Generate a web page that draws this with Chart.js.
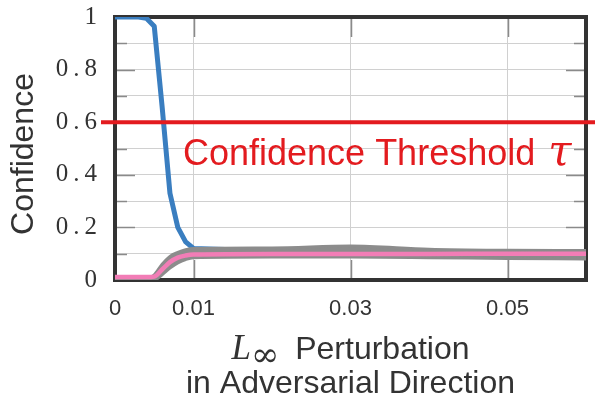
<!DOCTYPE html>
<html lang="en">
<head>
    <meta charset="UTF-8">
    <title>Confidence vs perturbation</title>
    <script src="https://cdn.jsdelivr.net/npm/chart.js"></script>
    <style>
        body {
            margin: 0;
            background: white;
        }

        #chart {
            display: block;
        }
    </style>
</head>
<body>
    <canvas id="chart" width="595" height="398"></canvas>

    <script>
        // L-inf perturbation steps (shared by every curve)
        const perturbation = [0, 0.001, 0.002, 0.003, 0.004, 0.005, 0.006, 0.007, 0.008, 0.009, 0.01, 0.02, 0.03, 0.04, 0.05, 0.06];

        // confidence of the original class (blue)
        const originalClass = [1, 1, 1, 1, 0.995, 0.965, 0.66, 0.33, 0.2, 0.145, 0.12, 0.11, 0.11, 0.105, 0.1, 0.1];
        // target class (pink)
        const targetClass = [0.011, 0.011, 0.011, 0.011, 0.011, 0.013, 0.04, 0.068, 0.085, 0.093, 0.097, 0.099, 0.099, 0.099, 0.1, 0.1];
        // spread of the remaining classes (grey band)
        const othersUpper = [0.005, 0.005, 0.005, 0.005, 0.005, 0.02, 0.06, 0.09, 0.105, 0.115, 0.12, 0.122, 0.129, 0.117, 0.113, 0.112];
        const othersLower = [0, 0, 0, 0, 0, 0, 0.02, 0.045, 0.065, 0.078, 0.085, 0.087, 0.087, 0.085, 0.082, 0.08];

        const threshold = 0.6;

        const xTickValues = [0, 0.01, 0.03, 0.05];
        const xTickLabels = ['0', '0.01', '0.03', '0.05'];
        const yTickLabels = ['0', '0.2', '0.4', '0.6', '0.8', '1'];

        const BLUE = '#3a7ec0';
        const PINK = '#f27db6';
        const GREY = '#8c8c8c';
        const RED = '#e31b1f';
        const INK = '#333333';

        const toPoints = values => perturbation.map((x, i) => ({ x, y: values[i] }));

        // frame, inner tick marks, threshold line and the hand-set titles
        const decorations = {
            id: 'decorations',
            beforeDatasetsDraw(chart) {
                const { ctx, chartArea: a, scales } = chart;
                ctx.save();
                ctx.strokeStyle = '#8a8a8a';
                ctx.lineWidth = 1.5;
                ctx.beginPath();
                for (let k = 1; k < 10; k++) {
                    const y = Math.round(scales.y.getPixelForValue(k / 10)) + 0.5;
                    const len = k % 2 === 0 ? 20 : 12;
                    ctx.moveTo(a.left, y); ctx.lineTo(a.left + len, y);
                    ctx.moveTo(a.right, y); ctx.lineTo(a.right - len, y);
                }
                xTickValues.slice(1).forEach(v => {
                    const x = Math.round(scales.x.getPixelForValue(v)) + 0.5;
                    ctx.moveTo(x, a.top); ctx.lineTo(x, a.top + 20);
                    ctx.moveTo(x, a.bottom); ctx.lineTo(x, a.bottom - 20);
                });
                ctx.stroke();

                ctx.strokeStyle = INK;
                ctx.lineWidth = 4;
                ctx.strokeRect(a.left, a.top, a.right - a.left, a.bottom - a.top);
                ctx.restore();
            },
            afterDatasetsDraw(chart) {
                const { ctx, chartArea: a, scales } = chart;
                const y = scales.y.getPixelForValue(threshold);
                ctx.save();
                ctx.strokeStyle = RED;
                ctx.lineWidth = 4;
                ctx.beginPath();
                ctx.moveTo(a.left - 14, y);
                ctx.lineTo(chart.width, y);
                ctx.stroke();

                // threshold label
                ctx.fillStyle = RED;
                ctx.textBaseline = 'alphabetic';
                ctx.font = '36px "Liberation Sans"';
                const label = 'Confidence Threshold ';
                ctx.fillText(label, 183, 165);
                const w = ctx.measureText(label).width;
                ctx.font = 'italic 42px "DejaVu Serif"';
                ctx.fillText('\u03C4', 183 + w + 3, 165);
                ctx.restore();
            },
            afterDraw(chart) {
                const { ctx, chartArea: a } = chart;
                const cx = (a.left + a.right) / 2;
                ctx.save();
                ctx.fillStyle = INK;
                ctx.textBaseline = 'alphabetic';

                // x title, line 1: L with an infinity subscript, then the word
                const fontL = 'italic 35px "Liberation Serif"';
                const fontSub = '34px "DejaVu Serif"';
                const fontWord = '32px "Liberation Sans"';
                ctx.font = fontL; const wL = ctx.measureText('L').width;
                ctx.font = fontSub; const wSub = ctx.measureText('\u221E').width;
                ctx.font = fontWord; const wWord = ctx.measureText('Perturbation').width;
                const gap = 16;
                let x = cx - (wL + wSub + gap + wWord) / 2;
                const base1 = 359;
                ctx.font = fontL; ctx.fillText('L', x, base1); x += wL;
                ctx.font = fontSub; ctx.fillText('\u221E', x, base1 + 7); x += wSub + gap;
                ctx.font = fontWord; ctx.fillText('Perturbation', x, base1);

                ctx.textAlign = 'center';
                ctx.fillText('in Adversarial Direction', cx, 393);

                // y title
                ctx.translate(33, 154);
                ctx.rotate(-Math.PI / 2);
                ctx.font = '32px "Liberation Sans"';
                ctx.fillText('Confidence', 0, 0);
                ctx.restore();
            }
        };

        // keep the plot box fixed: no extra room for overhanging tick labels
        const noOverhang = scale => {
            scale.paddingTop = 0;
            scale.paddingBottom = 0;
            scale.paddingLeft = 0;
            scale.paddingRight = 0;
        };

        new Chart(document.getElementById('chart'), {
            type: 'line',
            data: {
                datasets: [
                    {
                        data: toPoints(targetClass),
                        borderColor: PINK,
                        borderWidth: 4.5,
                        order: 0
                    },
                    {
                        data: toPoints(othersUpper),
                        borderColor: GREY,
                        borderWidth: 3,
                        order: 1
                    },
                    {
                        data: toPoints(othersLower),
                        borderColor: GREY,
                        backgroundColor: GREY,
                        borderWidth: 3,
                        fill: '-1',
                        order: 1
                    },
                    {
                        data: toPoints(originalClass),
                        borderColor: BLUE,
                        borderWidth: 5,
                        cubicInterpolationMode: 'default',
                        tension: 0,
                        order: 2
                    }
                ]
            },
            options: {
                responsive: false,
                animation: false,
                devicePixelRatio: 1,
                layout: { padding: { top: 17, right: 9, left: 0, bottom: 0 } },
                elements: {
                    point: { radius: 0 },
                    line: { cubicInterpolationMode: 'monotone', borderJoinStyle: 'round', borderCapStyle: 'butt' }
                },
                plugins: {
                    legend: { display: false },
                    tooltip: { enabled: false }
                },
                scales: {
                    x: {
                        type: 'linear',
                        min: 0,
                        max: 0.06,
                        afterBuildTicks: scale => {
                            scale.ticks = xTickValues.map(v => ({ value: v }));
                        },
                        afterFit: scale => { scale.height = 118; noOverhang(scale); },
                        grid: { color: '#d0d0d0', lineWidth: 1, drawTicks: false },
                        border: { display: false },
                        ticks: {
                            autoSkip: false,
                            maxRotation: 0,
                            padding: 16,
                            color: INK,
                            font: { family: 'Liberation Sans', size: 22 },
                            callback: (value, index) => xTickLabels[index]
                        }
                    },
                    y: {
                        min: 0,
                        max: 1,
                        afterFit: scale => { scale.width = 115; noOverhang(scale); },
                        grid: { color: '#d0d0d0', lineWidth: 1, drawTicks: false },
                        border: { display: false },
                        ticks: {
                            stepSize: 0.1,
                            autoSkip: false,
                            padding: 18,
                            color: INK,
                            font: { family: 'Liberation Serif', size: 25 },
                            callback: value => {
                                const k = Math.round(value * 10);
                                return k % 2 === 0 ? yTickLabels[k / 2].replace('.', '\u2009.\u2009') : '';
                            }
                        }
                    }
                }
            },
            plugins: [decorations]
        });
    </script>
</body>
</html>
